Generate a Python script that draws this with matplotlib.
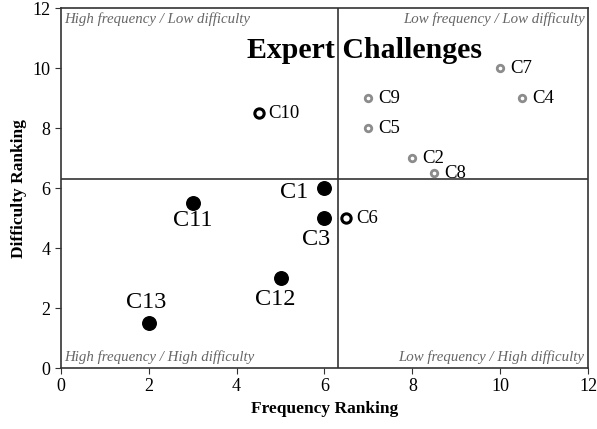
import matplotlib.pyplot as plt

plt.rcParams['font.family'] = ['Liberation Serif', 'DejaVu Serif']

# key challenges (filled)
keyNames = ['C1', 'C3', 'C11', 'C12', 'C13']
keyX = [6, 6, 3, 5, 2]
keyY = [6, 5, 5.5, 3, 1.5]
keyOffsets = [(-30, -4), (-8, -21), (0, -17), (-5, -21), (-3, 21)]

# open black
openNames = ['C10', 'C6']
openX = [4.5, 6.5]
openY = [8.5, 5]

# expert challenges (grey)
expNames = ['C7', 'C9', 'C4', 'C5', 'C2', 'C8']
expX = [10, 7, 10.5, 7, 8, 8.5]
expY = [10, 9, 9, 8, 7, 6.5]

splitX = 6.3
splitY = 6.3

fig = plt.figure(figsize=(5.97, 4.29), dpi=100)
ax = fig.add_axes([0.102, 0.142, 0.883, 0.839])

ax.axvline(splitX, color='#333333', lw=1.2, zorder=1)
ax.axhline(splitY, color='#333333', lw=1.2, zorder=1)

ax.scatter(keyX, keyY, s=95, color='black', zorder=3)
for n, x, y, off in zip(keyNames, keyX, keyY, keyOffsets):
    ax.annotate(n, (x, y), xytext=off, textcoords='offset pixels',
                ha='center', va='center', fontsize=17.5)

ax.scatter(openX, openY, s=45, facecolor='white', edgecolor='black', linewidth=2.2, zorder=3)
for n, x, y in zip(openNames, openX, openY):
    ax.annotate(n, (x, y), xytext=(10, 0), textcoords='offset pixels',
                ha='left', va='center', fontsize=13.5)

ax.scatter(expX, expY, s=22, facecolor='white', edgecolor='#8c8c8c', linewidth=2, zorder=3)
for n, x, y in zip(expNames, expX, expY):
    ax.annotate(n, (x, y), xytext=(10, 0), textcoords='offset pixels',
                ha='left', va='center', fontsize=13.5)

ax.text(6.92, 10.6, 'Expert Challenges', ha='center', va='center',
        fontsize=21.5, fontweight='bold')

cornerStyle = dict(fontsize=10.7, style='italic', color='#666666')
ax.text(0.08, 11.88, 'High frequency / Low difficulty', ha='left', va='top', **cornerStyle)
ax.text(11.92, 11.88, 'Low frequency / Low difficulty', ha='right', va='top', **cornerStyle)
ax.text(0.08, 0.12, 'High frequency / High difficulty', ha='left', va='bottom', **cornerStyle)
ax.text(11.92, 0.12, 'Low frequency / High difficulty', ha='right', va='bottom', **cornerStyle)

ax.set_xlim(0, 12)
ax.set_ylim(0, 12)
ax.set_xticks(range(0, 13, 2))
ax.set_yticks(range(0, 13, 2))
ax.tick_params(direction='out', labelsize=13, length=4, color='#333333')
for s in ax.spines.values():
    s.set_color('#333333')
    s.set_linewidth(1.2)

ax.set_xlabel('Frequency Ranking', fontsize=12.5, fontweight='bold')
ax.set_ylabel('Difficulty Ranking', fontsize=12.5, fontweight='bold')

fig.savefig('out.png', dpi=100)
